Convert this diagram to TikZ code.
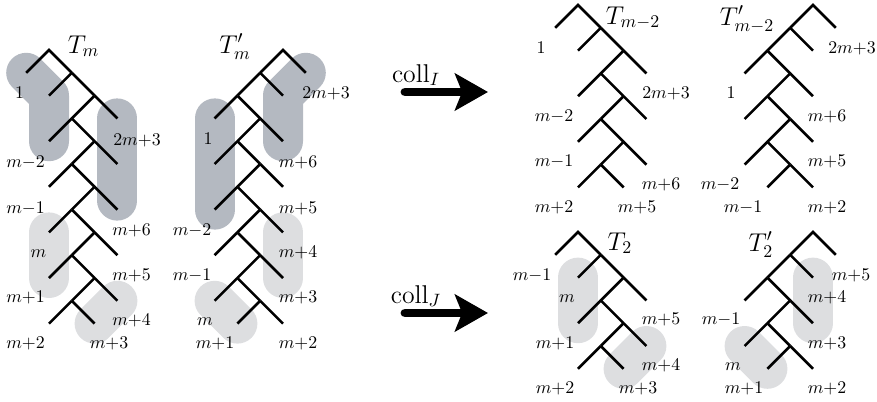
\documentclass[tikz,border=0pt]{standalone}
\usetikzlibrary{arrows.meta,calc}
\definecolor{blobdark}{RGB}{180,185,193}
\definecolor{bloblight}{RGB}{221,222,224}
\def\st{22.8}
\tikzset{
  treeline/.style={line width=1.45pt, black},
  darkblob/.style={line width=22.4pt, blobdark, line cap=round, line join=round},
  lightblob/.style={line width=22.4pt, bloblight, line cap=round, line join=round},
  lbl/.style={anchor=base, inner sep=0pt, font=\normalsize},
  ttl/.style={anchor=base, inner sep=0pt, font=\Large},
  bigarrow/.style={line width=5pt, line cap=round, -{Stealth[length=18.5pt,width=20.7pt,inset=4pt]}},
}
% coordinates of a caterpillar tree: prefix, root x, root y, direction (1/-1), L (odd)
\newcommand\catcoords[5]{%
  \coordinate (#1n0) at (#2,#3);
  \coordinate (#1l0) at ({#2-(#4)*\st},{#3+\st});
  \foreach \k in {1,...,#5}{%
    \pgfmathsetmacro\tcx{mod(\k,2)==1 ? 1 : 2}%
    \pgfmathsetmacro\tlx{mod(\k,2)==1 ? 0 : 3}%
    \coordinate (#1n\k) at ({#2+(#4)*\tcx*\st},{#3+\k*\st});
    \coordinate (#1l\k) at ({#2+(#4)*\tlx*\st},{#3+(\k+1)*\st});
  }%
  \pgfmathtruncatemacro\tkl{#5+1}%
  \coordinate (#1l\tkl) at ({#2+2*(#4)*\st},{#3+\tkl*\st});
}
\newcommand\catdraw[2]{%
  \draw[treeline] (#1l0) -- (#1n0) -- (#1n1);
  \foreach \k in {1,...,#2}{%
    \draw[treeline] (#1n\k) -- (#1l\k);
  }%
  \foreach \k in {2,...,#2}{%
    \pgfmathtruncatemacro\tkm{\k-1}%
    \draw[treeline] (#1n\tkm) -- (#1n\k);
  }%
  \pgfmathtruncatemacro\tkl{#2+1}%
  \draw[treeline] (#1n#2) -- (#1l\tkl);
}
\begin{document}
\begin{tikzpicture}[x=0.56pt,y=-0.56pt]
\useasboundingbox (0,0) rectangle (877,401);
% coordinates
\catcoords{A}{49}{50}{1}{11}
\catcoords{B}{283}{50}{-1}{11}
\catcoords{C}{578}{5}{1}{7}
\catcoords{D}{813}{5}{-1}{7}
\catcoords{E}{578}{232}{1}{5}
\catcoords{F}{813}{232}{-1}{5}
% shaded groups
\draw[darkblob] (Al0) -- (Al1) -- (Al3);
\draw[darkblob] (Al2) -- ($(Al6)+(0,-9)$);
\draw[darkblob] (Bl0) -- (Bl1) -- (Bl3);
\draw[darkblob] (Bl2) -- (Bl6);
\draw[lightblob] (Al7) -- (Al9);
\draw[lightblob] (Al12) -- (Al10);
\draw[lightblob] (Bl7) -- (Bl9);
\draw[lightblob] (Bl10) -- (Bl12);
\draw[lightblob] (El1) -- (El3);
\draw[lightblob] (El6) -- (El4);
\draw[lightblob] (Fl1) -- (Fl3);
\draw[lightblob] (Fl4) -- (Fl6);
% trees
\catdraw{A}{11}
\catdraw{B}{11}
\catdraw{C}{7}
\catdraw{D}{7}
\catdraw{E}{5}
\catdraw{F}{5}
% titles
\node[ttl] (tA) at (83.5,53) {$T_m$};
\node[ttl] (tB) at (235,53) {$T'_m$};
\node[ttl] (tC) at (633,24) {$T_{m-2}$};
\node[ttl] (tD) at (747,25) {$T'_{m-2}$};
\node[ttl] (tE) at (620,250) {$T_2$};
\node[ttl] (tF) at (761,251) {$T'_2$};
% labels T_m
\node[lbl] (A1) at (19.5,98) {$1$};
\node[lbl] (A2) at (25.5,167) {$m{-}2$};
\node[lbl] (A3) at (25.5,213) {$m{-}1$};
\node[lbl] (A4) at (38.5,257) {$m$};
\node[lbl] (A5) at (25.5,302) {$m{+}1$};
\node[lbl] (A6) at (25.5,348) {$m{+}2$};
\node[lbl] (A7) at (109,348) {$m{+}3$};
\node[lbl] (A8) at (131.5,325) {$m{+}4$};
\node[lbl] (A9) at (131.5,280) {$m{+}5$};
\node[lbl] (A10) at (131.5,235) {$m{+}6$};
\node[lbl] (A11) at (137,145) {$2m{+}3$};
% labels T'_m
\node[lbl] (B1) at (326,98) {$2m{+}3$};
\node[lbl] (B2) at (208,144) {$1$};
\node[lbl] (B3) at (298,167) {$m{+}6$};
\node[lbl] (B4) at (298,213) {$m{+}5$};
\node[lbl] (B5) at (192,235) {$m{-}2$};
\node[lbl] (B6) at (298,257) {$m{+}4$};
\node[lbl] (B7) at (192,280) {$m{-}1$};
\node[lbl] (B8) at (298,302) {$m{+}3$};
\node[lbl] (B9) at (205,325) {$m$};
\node[lbl] (B10) at (215,348) {$m{+}1$};
\node[lbl] (B11) at (298,348) {$m{+}2$};
% labels T_{m-2}
\node[lbl] (C1) at (541,53) {$1$};
\node[lbl] (C2) at (666,98) {$2m{+}3$};
\node[lbl] (C3) at (554,121) {$m{-}2$};
\node[lbl] (C4) at (554,166) {$m{-}1$};
\node[lbl] (C5) at (661,189) {$m{+}6$};
\node[lbl] (C6) at (554,212) {$m{+}2$};
\node[lbl] (C7) at (637,212) {$m{+}5$};
% labels T'_{m-2}
\node[lbl] (D1) at (852,53) {$2m{+}3$};
\node[lbl] (D2) at (731,98) {$1$};
\node[lbl] (D3) at (827,121) {$m{+}6$};
\node[lbl] (D4) at (827,166) {$m{+}5$};
\node[lbl] (D5) at (720,189) {$m{-}2$};
\node[lbl] (D6) at (743,212) {$m{-}1$};
\node[lbl] (D7) at (827,212) {$m{+}2$};
% labels T_2
\node[lbl] (E1) at (532,280) {$m{-}1$};
\node[lbl] (E2) at (567,302) {$m$};
\node[lbl] (E3) at (661,324) {$m{+}5$};
\node[lbl] (E4) at (555,348) {$m{+}1$};
\node[lbl] (E5) at (661,370) {$m{+}4$};
\node[lbl] (E6) at (555,393) {$m{+}2$};
\node[lbl] (E7) at (638,393) {$m{+}3$};
% labels T'_2
\node[lbl] (F1) at (851,280) {$m{+}5$};
\node[lbl] (F2) at (827,302) {$m{+}4$};
\node[lbl] (F3) at (721,324) {$m{-}1$};
\node[lbl] (F4) at (827,348) {$m{+}3$};
\node[lbl] (F5) at (733,370) {$m$};
\node[lbl] (F6) at (744,393) {$m{+}1$};
\node[lbl] (F7) at (827,393) {$m{+}2$};
% arrows
\coordinate (cIs) at (405,92);
\coordinate (cIe) at (488,92);
\coordinate (cJs) at (405,313);
\coordinate (cJe) at (488,313);
\draw[bigarrow] (cIs) -- (cIe);
\draw[bigarrow] (cJs) -- (cJe);
\node[ttl] (collI) at (416,82) {$\mathrm{coll}_I$};
\node[ttl] (collJ) at (416,303) {$\mathrm{coll}_J$};
\end{tikzpicture}
\end{document}
